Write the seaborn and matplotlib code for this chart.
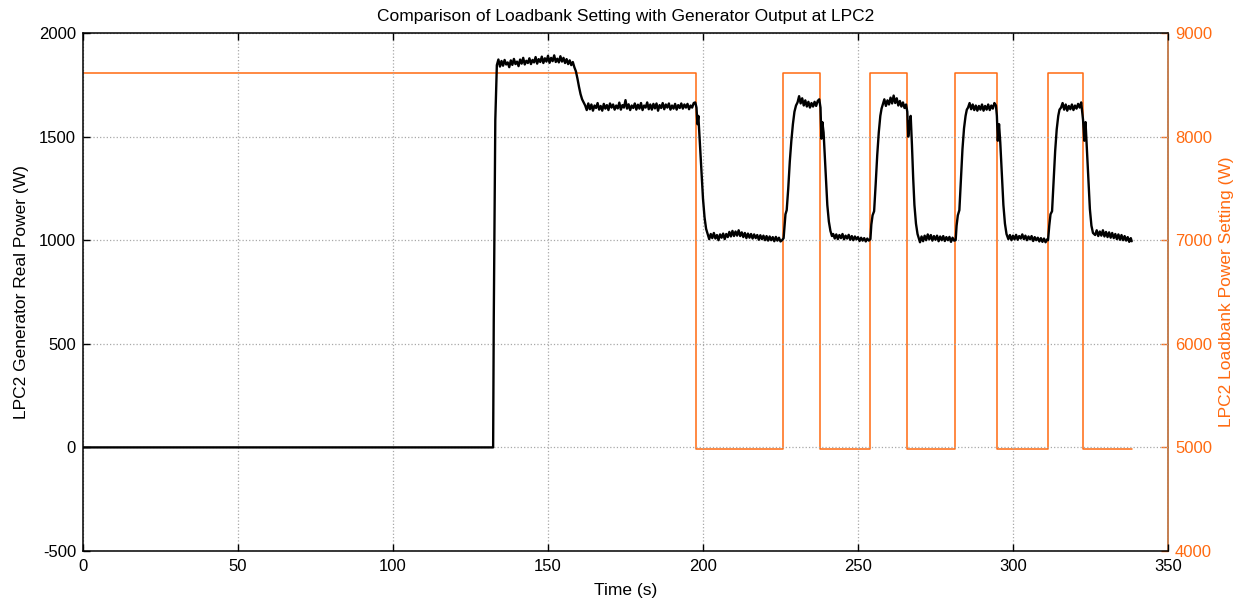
import matplotlib
matplotlib.use("Agg")
import matplotlib.pyplot as plt
import seaborn as sns
import pandas as pd

# Generator real power at LPC2 (W) versus time (s)
gen_time = [
    0, 132.3, 132.5, 133.0,
    133.5, 134, 134.5, 135, 135.5, 136, 136.5, 137, 137.5, 138, 138.5, 139, 139.5,
    140, 140.5, 141, 141.5, 142, 142.5, 143, 143.5, 144, 144.5, 145, 145.5,
    146, 146.5, 147, 147.5, 148, 148.5, 149, 149.5, 150, 150.5, 151, 151.5,
    152, 152.5, 153, 153.5, 154, 154.5, 155, 155.5, 156, 156.5, 157, 157.5,
    158, 158.5, 159, 159.5, 160, 160.5, 161, 161.5, 162,
    162.5, 163, 163.5, 164, 164.5, 165, 165.5, 166, 166.5, 167, 167.5, 168, 168.5,
    169, 169.5, 170, 170.5, 171, 171.5, 172, 172.5, 173, 173.5, 174, 174.5,
    175, 175.5, 176, 176.5, 177, 177.5, 178, 178.5, 179, 179.5, 180, 180.5,
    181, 181.5, 182, 182.5, 183, 183.5, 184, 184.5, 185, 185.5, 186, 186.5,
    187, 187.5, 188, 188.5, 189, 189.5, 190, 190.5, 191, 191.5, 192, 192.5,
    193, 193.5, 194, 194.5, 195, 195.5, 196, 196.5, 197, 197.5,
    197.9, 198.2, 198.5, 198.8, 199.2, 199.6, 200.0, 200.5, 201.0, 201.5,
    202, 202.5, 203, 203.5, 204, 204.5, 205, 205.5, 206, 206.5, 207, 207.5,
    208, 208.5, 209, 209.5, 210, 210.5, 211, 211.5, 212, 212.5, 213, 213.5,
    214, 214.5, 215, 215.5, 216, 216.5, 217, 217.5, 218, 218.5, 219, 219.5,
    220, 220.5, 221, 221.5, 222, 222.5, 223, 223.5, 224, 224.5, 225, 225.5,
    226.0, 226.3, 226.6, 227.0, 227.5, 228.0, 228.5, 229.0, 229.5, 230.0,
    230.5, 231, 231.5, 232, 232.5, 233, 233.5, 234, 234.5, 235, 235.5, 236,
    236.5, 237, 237.5,
    237.9, 238.2, 238.5, 238.9, 239.3, 239.7, 240.1, 240.6, 241.1, 241.6,
    242, 242.5, 243, 243.5, 244, 244.5, 245, 245.5, 246, 246.5, 247, 247.5,
    248, 248.5, 249, 249.5, 250, 250.5, 251, 251.5, 252, 252.5, 253, 253.5,
    254.0, 254.3, 254.7, 255.2, 255.7, 256.2, 256.7, 257.2, 257.6,
    258, 258.5, 259, 259.5, 260, 260.5, 261, 261.5, 262, 262.5, 263, 263.5,
    264, 264.5, 265, 265.5,
    265.9, 266.2, 266.6, 267.0, 267.4, 267.8, 268.2, 268.7, 269.2, 269.6,
    270, 270.5, 271, 271.5, 272, 272.5, 273, 273.5, 274, 274.5, 275, 275.5,
    276, 276.5, 277, 277.5, 278, 278.5, 279, 279.5, 280, 280.5, 281,
    281.5, 281.8, 282.2, 282.7, 283.2, 283.7, 284.2, 284.7, 285.1,
    285.5, 286, 286.5, 287, 287.5, 288, 288.5, 289, 289.5, 290, 290.5, 291,
    291.5, 292, 292.5, 293, 293.5, 294, 294.5,
    294.8, 295.1, 295.5, 295.9, 296.4, 296.9, 297.4, 297.9,
    298.5, 299, 299.5, 300, 300.5, 301, 301.5, 302, 302.5, 303, 303.5, 304,
    304.5, 305, 305.5, 306, 306.5, 307, 307.5, 308, 308.5, 309, 309.5, 310,
    310.5, 311,
    311.3, 311.7, 312.1, 312.6, 313.1, 313.6, 314.1, 314.6, 315.0,
    315.5, 316, 316.5, 317, 317.5, 318, 318.5, 319, 319.5, 320, 320.5, 321,
    321.5, 322,
    322.6, 323.0, 323.4, 323.8, 324.3, 324.8, 325.3, 325.8,
    326.5, 327, 327.5, 328, 328.5, 329, 329.5, 330, 330.5, 331, 331.5, 332,
    332.5, 333, 333.5, 334, 334.5, 335, 335.5, 336, 336.5, 337, 337.5, 338, 338.3,
]
gen_power = [
    0, 0, 610, 1580,
    1845, 1872, 1838, 1865, 1842, 1870, 1848, 1858, 1835, 1868, 1846, 1875, 1850,
    1862, 1840, 1872, 1852, 1880, 1848, 1866, 1855, 1878, 1850, 1870, 1858,
    1884, 1852, 1874, 1860, 1886, 1855, 1878, 1862, 1890, 1856, 1880, 1864,
    1892, 1860, 1876, 1858, 1888, 1862, 1880, 1855, 1874, 1850, 1868, 1845,
    1860, 1835, 1815, 1780, 1740, 1705, 1680, 1665, 1650,
    1628, 1660, 1632, 1655, 1625, 1650, 1638, 1662, 1630, 1648, 1625, 1658, 1635,
    1652, 1628, 1660, 1640, 1655, 1630, 1650, 1636, 1664, 1630, 1652, 1640,
    1676, 1635, 1656, 1628, 1650, 1638, 1660, 1630, 1654, 1635, 1662, 1628,
    1650, 1640, 1665, 1632, 1655, 1630, 1658, 1636, 1660, 1625, 1652, 1638,
    1662, 1632, 1655, 1640, 1660, 1630, 1650, 1635, 1658, 1630, 1652, 1638,
    1660, 1635, 1655, 1640, 1658, 1632, 1650, 1640, 1662, 1665,
    1640, 1560, 1600, 1520, 1420, 1300, 1200, 1110, 1055, 1030,
    1005, 1030, 1010, 1035, 1008, 1025, 1000, 1028, 1012, 1032, 1005, 1030,
    1015, 1040, 1018, 1045, 1020, 1042, 1022, 1048, 1020, 1038, 1015, 1035,
    1010, 1032, 1012, 1030, 1008, 1028, 1010, 1025, 1002, 1024, 1005, 1022,
    1000, 1020, 998, 1018, 1000, 1015, 995, 1016, 998, 1012, 994, 1000,
    1010, 1070, 1125, 1145, 1250, 1380, 1480, 1560, 1620, 1650,
    1665, 1695, 1660, 1685, 1650, 1675, 1645, 1668, 1640, 1662, 1645, 1668,
    1648, 1672, 1680,
    1640, 1490, 1570, 1520, 1400, 1270, 1170, 1090, 1045, 1020,
    1030, 1008, 1028, 1005, 1025, 1010, 1030, 1004, 1022, 1008, 1026, 1002,
    1020, 1000, 1018, 1004, 1015, 996, 1012, 998, 1010, 994, 1008, 998,
    1005, 1075, 1120, 1140, 1270, 1410, 1520, 1600, 1635,
    1655, 1680, 1648, 1675, 1655, 1688, 1660, 1698, 1662, 1685, 1650, 1672,
    1645, 1665, 1638, 1655,
    1620, 1500, 1560, 1600, 1460, 1300, 1170, 1080, 1030, 1010,
    990, 1018, 995, 1022, 1000, 1028, 1004, 1025, 998, 1020, 1002, 1022,
    995, 1018, 1000, 1020, 996, 1015, 1000, 1016, 992, 1012, 998,
    1000, 1070, 1120, 1145, 1290, 1440, 1540, 1600, 1630,
    1640, 1662, 1632, 1655, 1628, 1650, 1625, 1648, 1630, 1655, 1625, 1648,
    1630, 1655, 1628, 1650, 1635, 1662, 1650,
    1600, 1480, 1560, 1470, 1320, 1170, 1080, 1030,
    1005, 1025, 1000, 1022, 1004, 1026, 1002, 1020, 1008, 1028, 1005, 1022,
    1000, 1018, 1004, 1020, 996, 1015, 1000, 1012, 994, 1010, 992, 1008,
    990, 1004,
    1000, 1070, 1125, 1140, 1280, 1430, 1535, 1600, 1630,
    1640, 1662, 1630, 1655, 1625, 1648, 1632, 1655, 1628, 1650, 1635, 1658,
    1640, 1665,
    1580, 1480, 1570, 1450, 1300, 1150, 1070, 1035,
    1025, 1048, 1020, 1042, 1022, 1048, 1018, 1040, 1015, 1038, 1012, 1035,
    1010, 1030, 1005, 1028, 1002, 1025, 1000, 1020, 998, 1015, 992, 1010, 995,
]

# Loadbank power setting (W): switching instants and the level held after each
load_time = [0, 197.8, 225.9, 237.8, 253.9, 265.9, 281.4, 294.7, 311.2, 322.5, 338.3]
load_setting = [8610, 4980, 8610, 4980, 8610, 4980, 8610, 4980, 8610, 4980, 4980]

x_ticks = [0, 50, 100, 150, 200, 250, 300, 350]
left_ticks = [-500, 0, 500, 1000, 1500, 2000]
right_ticks = [4000, 5000, 6000, 7000, 8000, 9000]

ORANGE = "#ff6a10"
ORANGE_AXIS = "#b45a1e"

sns.set_theme(style="white")
plt.rcParams["font.family"] = ["Liberation Sans", "DejaVu Sans"]
plt.rcParams["axes.unicode_minus"] = False
plt.rcParams["text.color"] = "black"
plt.rcParams["axes.labelcolor"] = "black"

gen_df = pd.DataFrame({"time": gen_time, "power": gen_power})
load_df = pd.DataFrame({"time": load_time, "setting": load_setting})

fig = plt.figure(figsize=(12.39, 6.03), dpi=100)
ax = fig.add_axes([83 / 1239, 1 - 551 / 603, (1168 - 83) / 1239, (551 - 33) / 603])
ax2 = ax.twinx()

sns.lineplot(data=gen_df, x="time", y="power", ax=ax, color="black",
             linewidth=1.7, estimator=None, sort=False, zorder=3)
sns.lineplot(data=load_df, x="time", y="setting", ax=ax2, color=ORANGE,
             linewidth=1.1, estimator=None, sort=False, drawstyle="steps-post")

ax.set_xlim(0, 350)
ax.set_ylim(-500, 2000)
ax2.set_ylim(4000, 9000)
ax.set_xticks(x_ticks)
ax.set_yticks(left_ticks)
ax2.set_yticks(right_ticks)

ax.grid(True, color="#a8a8a8", linestyle=":", linewidth=0.9)
ax.set_axisbelow(True)
ax.set_zorder(ax2.get_zorder() + 1)
ax.patch.set_visible(False)

ax.tick_params(axis="both", direction="in", length=5, width=1, colors="black",
               labelsize=12, top=True, bottom=True, left=True, right=False)
ax.tick_params(axis="x", pad=6)
ax.tick_params(axis="y", pad=5)
ax2.tick_params(axis="y", direction="in", length=5, width=1, colors=ORANGE,
                labelsize=12, pad=5)

for side in ("left", "top", "bottom"):
    ax.spines[side].set_color("black")
    ax.spines[side].set_linewidth(1.1)
ax.spines["right"].set_visible(False)
for side in ("left", "top", "bottom"):
    ax2.spines[side].set_visible(False)
ax2.spines["right"].set_color(ORANGE_AXIS)
ax2.spines["right"].set_linewidth(1.1)

ax.set_xlabel("Time (s)", fontsize=12.5, labelpad=6)
ax.set_ylabel("LPC2 Generator Real Power (W)", fontsize=12.5, labelpad=7)
ax2.set_ylabel("LPC2 Loadbank Power Setting (W)", fontsize=12.5, color=ORANGE, labelpad=5)
ax.set_title("Comparison of Loadbank Setting with Generator Output at LPC2",
             fontsize=12.5, color="black", pad=8.5)

fig.savefig("out.png", dpi=100, facecolor="white")
